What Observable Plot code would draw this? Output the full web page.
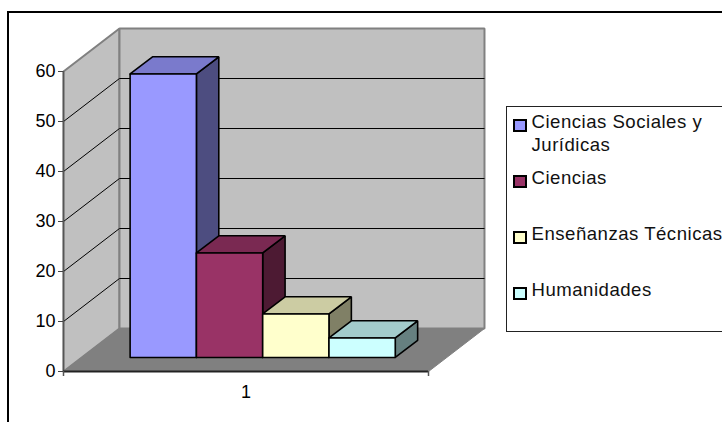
<!DOCTYPE html>
<html>
<head>
<meta charset="utf-8">
<script src="https://cdn.jsdelivr.net/npm/d3@7"></script>
<script src="https://cdn.jsdelivr.net/npm/@observablehq/plot@0.6"></script>
<style>
html,body{margin:0;padding:0;background:#fff;overflow:hidden;width:722px;height:422px}
#wrap{position:relative;width:722px;height:422px;overflow:hidden;font-family:"Liberation Sans",Arial,sans-serif}
#wrap svg{position:absolute;left:0;top:0}
#frame{position:absolute;left:7px;top:11px;width:800px;height:500px;border:2px solid #000;box-sizing:border-box}
#legend{position:absolute;left:506px;top:106px;width:300px;height:226px;border:1px solid #222;box-sizing:border-box;background:#fff}
.sw{position:absolute;left:7px;width:12px;height:11px;border:1px solid #000;box-sizing:border-box;outline:.5px solid #000}
.lb{position:absolute;left:24.5px;font-size:18.6px;line-height:23px;white-space:nowrap;color:#111;letter-spacing:.5px}
</style>
</head>
<body>
<div id="wrap">
<div id="frame"></div>
<div id="chart"></div>
<div id="legend"></div>
</div>
<script>
// Data
const categories = ["Ciencias Sociales y Jurídicas", "Ciencias", "Enseñanzas Técnicas", "Humanidades"];
const values = [56.7, 20.9, 8.7, 3.9];
const frontColors = ["#9999FF", "#993366", "#FFFFCC", "#CCFFFF"];
const topColors = ["#7A7ACC", "#7A2952", "#CCCCA3", "#A3CCCC"];
const sideColors = ["#4D4D80", "#4D1A33", "#808066", "#668080"];
const yTicks = [0, 10, 20, 30, 40, 50, 60];
const xLabels = ["1"];

// Oblique projection of the 3D box: depth (0..1) shifts along x and value
const depthX = 0.1534, depthY = 8.6;
const barW = 0.1816, gap = 0.1325, zFront = 0.326, zBack = 0.726;
const P = (x, v, z = 0) => ({x: x + z * depthX, y: v + z * depthY});
const poly = (pts) => [...pts, pts[0]].map(([x, v, z]) => P(x, v, z));
const face = (pts, fill, stroke, strokeWidth) =>
  Plot.line(poly(pts), {x: "x", y: "y", fill, stroke, strokeWidth, strokeLinejoin: "miter"});

const marks = [];
// walls and floor
marks.push(face([[0,0,0],[0,60,0],[0,60,1],[0,0,1]], "#C0C0C0", "#808080", 2));
marks.push(face([[0,0,1],[0,60,1],[1,60,1],[1,0,1]], "#C0C0C0", "#808080", 2));
marks.push(face([[0,0,0],[1,0,0],[1,0,1],[0,0,1]], "#808080", "#808080", 1));
// gridlines on both walls
const grid = yTicks.filter(v => v > 0 && v < 60);
marks.push(Plot.link(grid, {x1: 0, y1: d => d, x2: depthX, y2: d => d + depthY, stroke: "#000", strokeWidth: 1}));
marks.push(Plot.link(grid, {x1: depthX, y1: d => d + depthY, x2: 1 + depthX, y2: d => d + depthY, stroke: "#000", strokeWidth: 1}));
// bars
values.forEach((v, i) => {
  const a = gap + i * barW, b = a + barW, s = "#000", w = 1.6;
  marks.push(face([[b,0,zFront],[b,0,zBack],[b,v,zBack],[b,v,zFront]], sideColors[i], s, w));
  marks.push(face([[a,v,zFront],[b,v,zFront],[b,v,zBack],[a,v,zBack]], topColors[i], s, w));
  marks.push(face([[a,0,zFront],[b,0,zFront],[b,v,zFront],[a,v,zFront]], frontColors[i], s, w));
});
// axes
marks.push(Plot.ruleX([0], {y1: 0, y2: 60, stroke: "#555", strokeWidth: 1.5}));
marks.push(Plot.ruleY([0], {x1: 0, x2: 1, stroke: "#222", strokeWidth: 2}));
marks.push(Plot.ruleX([0, 1], {y1: 0, y2: -1, stroke: "#555", strokeWidth: 1.5}));
marks.push(Plot.axisY({ticks: yTicks, tickSize: 5, tickPadding: 3, label: null, stroke: "#444"}));
marks.push(Plot.axisX({ticks: [0.5], tickSize: 0, tickPadding: 14, label: null, tickFormat: () => xLabels[0]}));

const chart = Plot.plot({
  width: 722, height: 422,
  marginLeft: 63, marginRight: 294, marginTop: 71, marginBottom: 51,
  x: {domain: [0, 1]},
  y: {domain: [0, 60]},
  style: {fontFamily: '"Liberation Sans", Arial, sans-serif', fontSize: "18px", background: "transparent", overflow: "visible"},
  marks
});
document.getElementById("chart").appendChild(chart);

// Legend
const legend = document.getElementById("legend");
const rows = [
  {sw: 13, lines: ["Ciencias Sociales y", "Jurídicas"], top: 2.5},
  {sw: 69, lines: ["Ciencias"], top: 59},
  {sw: 125, lines: ["Enseñanzas Técnicas"], top: 115},
  {sw: 181, lines: ["Humanidades"], top: 170.5}
];
rows.forEach((r, i) => {
  const s = document.createElement("div");
  s.className = "sw"; s.style.top = r.sw + "px"; s.style.background = frontColors[i];
  legend.appendChild(s);
  const t = document.createElement("div");
  t.className = "lb"; t.style.top = r.top + "px"; t.innerHTML = r.lines.join("<br>");
  legend.appendChild(t);
});
</script>
</body>
</html>
